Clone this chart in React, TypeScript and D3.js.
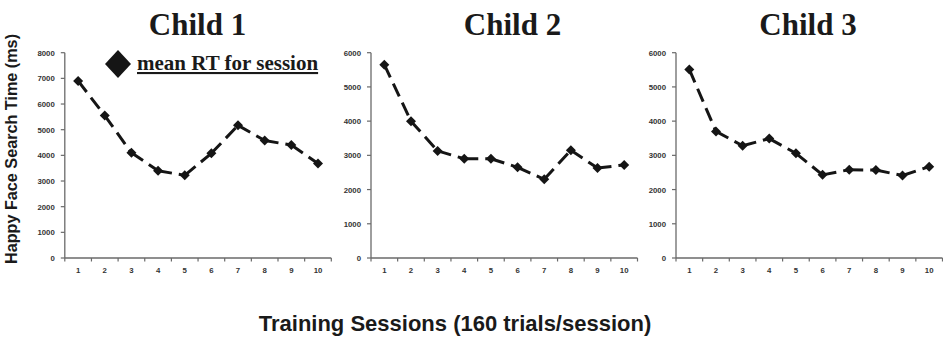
import React from "react";
import * as d3 from "d3";

const sessions = [1, 2, 3, 4, 5, 6, 7, 8, 9, 10];
const child1 = [6900, 5550, 4100, 3400, 3220, 4080, 5170, 4580, 4400, 3680];
const child2 = [5650, 4000, 3130, 2900, 2900, 2650, 2300, 3150, 2630, 2720];
const child3 = [5510, 3700, 3280, 3490, 3060, 2430, 2580, 2570, 2410, 2670];
const titles = ["Child 1", "Child 2", "Child 3"];
const yMax = [8000, 6000, 6000];
const yTicks1 = [0, 1000, 2000, 3000, 4000, 5000, 6000, 7000, 8000];
const yTicks23 = [0, 1000, 2000, 3000, 4000, 5000, 6000];
const legendLabel = "mean RT for session";
const yTitle = "Happy Face Search Time (ms)";
const xTitle = "Training Sessions (160 trials/session)";

const W = 943;
const H = 337;
const panelLeft = [64.8, 371, 676];
const panelWidth = 266.5;
const titleCx = [197.5, 512.5, 808];
const top = 52.7;
const bottom = 258;

const series = [child1, child2, child3];
const tickSets = [yTicks1, yTicks23, yTicks23];

const sans = "'Liberation Sans', Arial, sans-serif";
const serif = "'Liberation Serif', 'Times New Roman', serif";

function Panel({ i }: { i: number }) {
  const x0 = panelLeft[i];
  const x = d3
    .scaleBand<number>()
    .domain(sessions)
    .range([x0, x0 + panelWidth]);
  const y = d3.scaleLinear().domain([0, yMax[i]]).range([bottom, top]);
  const cx = (s: number) => (x(s) as number) + x.bandwidth() / 2;
  const vals = series[i];
  const pts: [number, number][] = sessions.map((s, k) => [cx(s), y(vals[k])]);
  const line = d3.line<[number, number]>();
  const segs = pts.slice(0, -1).map((p, k) => line([p, pts[k + 1]]) as string);
  const boundaries = [...sessions.map((s) => x(s) as number), x0 + panelWidth];
  const axisColor = "#6a6a6a";
  const r = 5;
  return (
    <g>
      <text
        x={titleCx[i]}
        y={35}
        textAnchor="middle"
        fontFamily={serif}
        fontWeight="bold"
        fontSize={31}
        fill="#1a1a1a"
      >
        {titles[i]}
      </text>
      <line x1={x0} x2={x0} y1={top} y2={bottom} stroke={axisColor} strokeWidth={1.3} />
      {tickSets[i].map((t) => (
        <g key={t}>
          <line x1={x0 - 4} x2={x0} y1={y(t)} y2={y(t)} stroke={axisColor} strokeWidth={1.2} />
          <text
            x={x0 - 10}
            y={y(t) + 1}
            textAnchor="end"
            dominantBaseline="middle"
            fontFamily={sans}
            fontWeight="bold"
            fontSize={7.8}
            fill="#333"
          >
            {t}
          </text>
        </g>
      ))}
      <line x1={x0} x2={x0 + panelWidth} y1={bottom} y2={bottom} stroke={axisColor} strokeWidth={1.3} />
      {boundaries.map((b, k) => (
        <line key={k} x1={b} x2={b} y1={bottom} y2={bottom + 3.5} stroke={axisColor} strokeWidth={1.2} />
      ))}
      {sessions.map((s) => (
        <text
          key={s}
          x={cx(s)}
          y={273}
          textAnchor="middle"
          fontFamily={sans}
          fontWeight="bold"
          fontSize={7.8}
          fill="#333"
        >
          {s}
        </text>
      ))}
      {segs.map((d, k) => (
        <path key={k} d={d} fill="none" stroke="#151515" strokeWidth={3} strokeDasharray="14,7" />
      ))}
      {pts.map((p, k) => (
        <path
          key={k}
          d={`M${p[0]},${p[1] - r}L${p[0] + r},${p[1]}L${p[0]},${p[1] + r}L${p[0] - r},${p[1]}Z`}
          fill="#151515"
        />
      ))}
    </g>
  );
}

export default function App() {
  return (
    <svg
      width={W}
      height={H}
      style={{ position: "absolute", left: 0, top: 0, background: "#fff" }}
    >
      <rect width={W} height={H} fill="#fff" />
      {[0, 1, 2].map((i) => (
        <Panel key={i} i={i} />
      ))}
      <path d="M118,50L131,64L118,78L105,64Z" fill="#151515" />
      <text
        x={137}
        y={70}
        fontFamily={serif}
        fontWeight="bold"
        fontSize={21}
        fill="#1a1a1a"
        textDecoration="underline"
      >
        {legendLabel}
      </text>
      <text
        transform="translate(17,149) rotate(-90)"
        textAnchor="middle"
        fontFamily={sans}
        fontWeight="bold"
        fontSize={16.2}
        fill="#1a1a1a"
      >
        {yTitle}
      </text>
      <text
        x={455}
        y={331}
        textAnchor="middle"
        fontFamily={sans}
        fontWeight="bold"
        fontSize={22}
        fill="#1a1a1a"
      >
        {xTitle}
      </text>
    </svg>
  );
}
